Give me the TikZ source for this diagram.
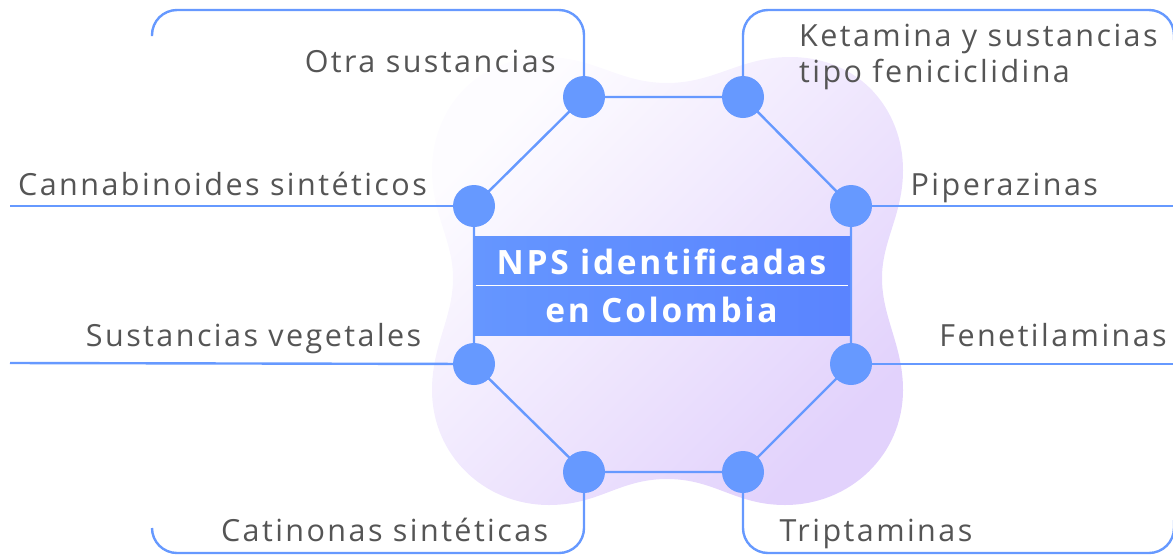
\documentclass[tikz,border=0pt]{standalone}
\usepackage{fontspec}
\setmainfont{Open Sans}[LetterSpace=8]
\definecolor{lineblue}{HTML}{6699FF}
\definecolor{dotblue}{HTML}{6699FF}
\definecolor{boxA}{HTML}{6596FF}
\definecolor{boxB}{HTML}{5A84FF}
\definecolor{blobA}{HTML}{FDFCFF}
\definecolor{blobB}{HTML}{E2D2FC}
\definecolor{txt}{HTML}{555555}
\tikzset{
  conn/.style={draw=lineblue, line width=2.4pt},
  dot/.style={circle, fill=dotblue, minimum size=42pt, inner sep=0pt},
  lbl/.style={text=txt, inner sep=0pt, font=\fontsize{30.5}{34}\selectfont},
  ttl/.style={text=white, inner sep=0pt, font=\bfseries\fontsize{33.5}{40}\selectfont},
}
\begin{document}
\begin{tikzpicture}[x=1pt,y=-1pt]
\useasboundingbox (0,0) rectangle (1173,555);
\clip (0,0) rectangle (1173,555);
% background blob
\shade[top color=blobA, bottom color=blobB, shading angle=45]
  (667,83) .. controls (715,83) and (740,57) .. (790,57)
  .. controls (860,57) and (903,110) .. (903,170)
  .. controls (903,215) and (882,240) .. (882,278)
  .. controls (882,318) and (903,345) .. (903,390)
  .. controls (903,455) and (850,505) .. (785,505)
  .. controls (735,505) and (715,479) .. (667,479)
  .. controls (619,479) and (599,505) .. (549,505)
  .. controls (484,505) and (432,455) .. (432,390)
  .. controls (432,345) and (453,318) .. (453,278)
  .. controls (453,240) and (432,215) .. (432,170)
  .. controls (432,110) and (475,57) .. (545,57)
  .. controls (595,57) and (619,83) .. (667,83) -- cycle;
% dots (positions)
\coordinate (p1) at (584,97);
\coordinate (p2) at (743,97);
\coordinate (p3) at (851,206);
\coordinate (p4) at (851,364);
\coordinate (p5) at (743,472);
\coordinate (p6) at (584,472);
\coordinate (p7) at (474,364);
\coordinate (p8) at (474,206);
% free ends
\coordinate (a1) at (584,10);
\coordinate (a2) at (152,10);
\coordinate (a3) at (152,36);
\coordinate (b1) at (743,10);
\coordinate (b2) at (1174,10);
\coordinate (b3) at (1174,40);
\coordinate (c1) at (10,206);
\coordinate (d1) at (1173,206);
\coordinate (e1) at (10,363);
\coordinate (f1) at (1173,364);
\coordinate (g1) at (584,553);
\coordinate (g2) at (152,553);
\coordinate (g3) at (152,528);
\coordinate (h1) at (743,553);
\coordinate (h2) at (1174,553);
\coordinate (h3) at (1174,520);
% connectors
\draw[conn] (p1) -- (p2) -- (p3) -- (p4) -- (p5) -- (p6) -- (p7) -- (p8) -- cycle;
\draw[conn, rounded corners=25pt] (p1) -- (a1) -- (a2) -- (a3);
\draw[conn, rounded corners=25pt] (p2) -- (b1) -- (b2) -- (b3);
\draw[conn, rounded corners=25pt] (p6) -- (g1) -- (g2) -- (g3);
\draw[conn, rounded corners=25pt] (p5) -- (h1) -- (h2) -- (h3);
\draw[conn] (p8) -- (c1);
\draw[conn] (p3) -- (d1);
\draw[conn] (p7) -- (e1);
\draw[conn] (p4) -- (f1);
% central box
\shade[left color=boxA, right color=boxB] (474,236) rectangle (850,335);
\draw[white, line width=1pt] (476,285.5) -- (848,285.5);
\node[ttl, anchor=base] (t1) at (661.5,274) {NPS identificadas};
\node[ttl, anchor=base] (t2) at (661.5,322) {en Colombia};
% dots
\foreach \i in {1,...,8} { \node[dot] (n\i) at (p\i) {}; }
% labels
\node[lbl, anchor=base east] (l1) at (556,72.7) {Otra sustancias};
\node[lbl, anchor=base west] (l2a) at (799,46) {Ketamina y sustancias};
\node[lbl, anchor=base west] (l2b) at (799,82) {tipo feniciclidina};
\node[lbl, anchor=base west] (l3) at (910.5,195.7) {Piperazinas};
\node[lbl, anchor=base east] (l4) at (1167,346.7) {Fenetilaminas};
\node[lbl, anchor=base west] (l5) at (779.5,541.7) {Triptaminas};
\node[lbl, anchor=base east] (l6) at (548.5,541.7) {Catinonas sintéticas};
\node[lbl, anchor=base east] (l7) at (421.5,346.7) {Sustancias vegetales};
\node[lbl, anchor=base east] (l8) at (427,195.7) {Cannabinoides sintéticos};
\end{tikzpicture}
\end{document}
